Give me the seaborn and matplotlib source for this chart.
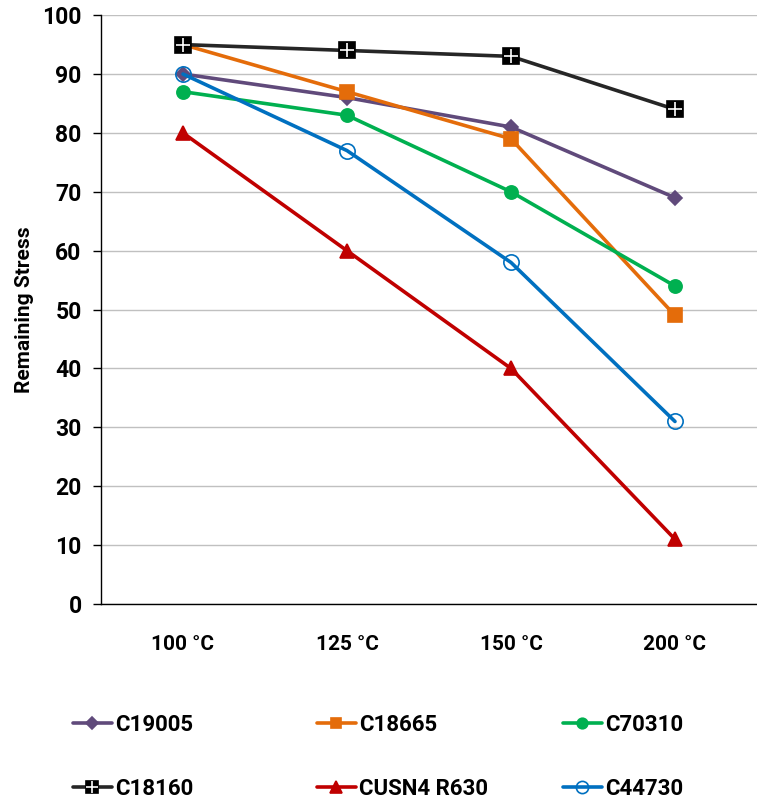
import numpy as np
import pandas as pd
import matplotlib
matplotlib.use('Agg')
import matplotlib.pyplot as plt
import seaborn as sns
from matplotlib.legend_handler import HandlerTuple
from matplotlib.lines import Line2D

temps = ['100 °C', '125 °C', '150 °C', '200 °C']
c19005 = [90, 86, 81, 69]
c18665 = [95, 87, 79, 49]
c70310 = [87, 83, 70, 54]
c18160 = [95, 94, 93, 84]
cusn4 = [80, 60, 40, 11]
c44730 = [90, 77, 58, 31]
names = ['C19005', 'C18665', 'C70310', 'C18160', 'CUSN4 R630', 'C44730']

sns.set_style('white')
fam = ['Roboto', 'DejaVu Sans']
plt.rcParams['font.family'] = fam
plt.rcParams['text.color'] = 'black'
plt.rcParams['axes.labelcolor'] = 'black'
plt.rcParams['xtick.color'] = 'black'
plt.rcParams['ytick.color'] = 'black'

fig = plt.figure(figsize=(7.57, 8.01), dpi=100)
ax = fig.add_axes([0.1334, 0.2459, 0.8666, 0.7352])

series = [c19005, c18665, c70310, c18160, cusn4, c44730]
colors = ['#604A7B', '#E46C0A', '#00B050', '#262626', '#C00000', '#0070C0']
markers = ['D', 's', 'o', 's', '^', 'o']
msizes = [7.5, 9.5, 9.5, 11, 10, 11]

handles = []
for vals, name, col, mk, ms in zip(series, names, colors, markers, msizes):
    df = pd.DataFrame({'temp': temps, 'val': vals})
    face = 'none' if name == 'C44730' else col
    if name == 'C18160':
        face = 'black'
    mec = 'black' if name == 'C18160' else col
    sns.lineplot(data=df, x='temp', y='val', ax=ax, color=col, lw=2.6, marker=mk,
                 markersize=ms, markerfacecolor=face, markeredgecolor=mec,
                 markeredgewidth=1.2, sort=False)
    h = Line2D([], [], color=col, lw=2.6, marker=mk, markersize=ms * 0.8,
               markerfacecolor=face, markeredgecolor=mec, markeredgewidth=1.2)
    if name == 'C18160':
        sns.lineplot(data=df, x='temp', y='val', ax=ax, color='white', lw=0,
                     marker='+', markersize=10, markeredgewidth=1.2, sort=False)
        h2 = Line2D([], [], lw=0, marker='+', markersize=8, color='white', markeredgewidth=1.2)
        h = (h, h2)
    handles.append(h)

ax.set_xlim(-0.5, 3.5)
ax.set_ylim(0, 100)
ax.set_yticks(np.arange(0, 101, 10))
ax.yaxis.grid(True, color='#C0C0C0', lw=1)
ax.xaxis.grid(False)
ax.set_axisbelow(True)
for s in ['top', 'right']:
    ax.spines[s].set_visible(False)
for s in ['left', 'bottom']:
    ax.spines[s].set_color('black')
    ax.spines[s].set_linewidth(1)

ax.set_xticks(range(4))
ax.set_xticklabels(temps)
ax.set_xticks([-0.5, 0.5, 1.5, 2.5, 3.5], minor=True)
ax.tick_params(axis='x', which='major', length=0, pad=22)
ax.tick_params(axis='x', which='minor', length=6, width=1, color='black', direction='out')
ax.tick_params(axis='y', which='major', length=6, width=1, color='black', direction='out',
               left=True, pad=8)
for t in ax.get_xticklabels():
    t.set_fontweight('bold')
    t.set_fontsize(15)
for t in ax.get_yticklabels():
    t.set_fontweight('bold')
    t.set_fontsize(16.5)

ax.set_xlabel('')
ax.set_ylabel('Remaining Stress', fontsize=15, fontweight='bold', labelpad=6)

# one legend per column, rows read left to right like the original
col_x = [73, 317, 563]
for i, x in enumerate(col_x):
    fig.legend([handles[i], handles[i + 3]], [names[i], names[i + 3]],
               loc='center left', bbox_to_anchor=(x / 757, 1 - 757 / 801),
               frameon=False, handlelength=1.75, handletextpad=0.14,
               labelspacing=1.9, borderpad=0, borderaxespad=0,
               prop={'weight': 'bold', 'size': 16, 'family': fam},
               handler_map={tuple: HandlerTuple(ndivide=1, pad=0)})

fig.savefig('out.png', dpi=100)
